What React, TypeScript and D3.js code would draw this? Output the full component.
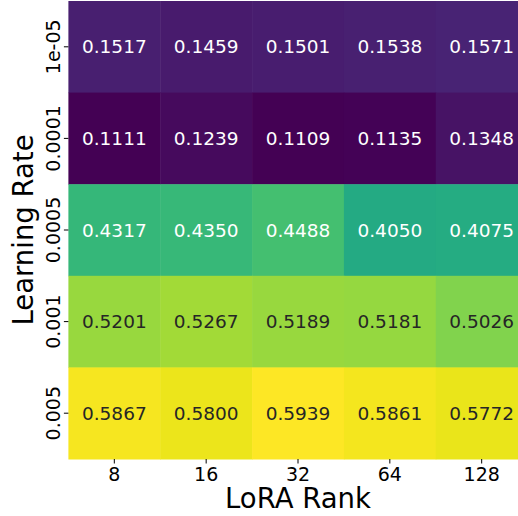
import React from "react";
import * as d3 from "d3";

const ranks = ["8", "16", "32", "64", "128"];
const learningRates = ["1e-05", "0.0001", "0.0005", "0.001", "0.005"];
const values: number[][] = [
  [0.1517, 0.1459, 0.1501, 0.1538, 0.1571],
  [0.1111, 0.1239, 0.1109, 0.1135, 0.1348],
  [0.4317, 0.435, 0.4488, 0.405, 0.4075],
  [0.5201, 0.5267, 0.5189, 0.5181, 0.5026],
  [0.5867, 0.58, 0.5939, 0.5861, 0.5772],
];
const xLabel = "LoRA Rank";
const yLabel = "Learning Rate";

const W = 518;
const H = 516;
const FONT = "'DejaVu Sans', sans-serif";

function relLum(c: string): number {
  const rgb = d3.rgb(c);
  const f = (v: number) => {
    const s = v / 255;
    return s <= 0.03928 ? s / 12.92 : Math.pow((s + 0.055) / 1.055, 2.4);
  };
  return 0.2126 * f(rgb.r) + 0.7152 * f(rgb.g) + 0.0722 * f(rgb.b);
}

export default function App() {
  const x = d3.scaleBand<string>().domain(ranks).range([68.4, 527.6]);
  const y = d3.scaleBand<string>().domain(learningRates).range([1, 459]);
  const flat = values.flat();
  const color = d3
    .scaleSequential(d3.interpolateViridis)
    .domain([d3.min(flat) as number, d3.max(flat) as number]);
  const bottom = 459;
  const left = 68.4;

  return (
    <svg
      width={W}
      height={H}
      style={{ position: "absolute", left: 0, top: 0, background: "#fff", overflow: "hidden" }}
      fontFamily={FONT}
    >
      {learningRates.map((lr, i) =>
        ranks.map((r, j) => {
          const v = values[i][j];
          const c = color(v);
          const tc = relLum(c) > 0.408 ? "#262626" : "#ffffff";
          return (
            <g key={lr + r}>
              <rect
                x={x(r)}
                y={y(lr)}
                width={x.bandwidth() + 0.5}
                height={y.bandwidth() + 0.5}
                fill={c}
              />
              <text
                x={(x(r) as number) + x.bandwidth() / 2}
                y={(y(lr) as number) + y.bandwidth() / 2}
                dy="0.36em"
                textAnchor="middle"
                fontSize={18.5}
                fill={tc}
              >
                {v.toFixed(4)}
              </text>
            </g>
          );
        })
      )}
      {ranks.map((r) => {
        const cx = (x(r) as number) + x.bandwidth() / 2;
        return (
          <g key={"xt" + r}>
            <line x1={cx} x2={cx} y1={bottom} y2={bottom + 4.5} stroke="#000" strokeWidth={1} />
            <text x={cx} y={481} textAnchor="middle" fontSize={19} fill="#000">
              {r}
            </text>
          </g>
        );
      })}
      {learningRates.map((lr) => {
        const cy = (y(lr) as number) + y.bandwidth() / 2;
        return (
          <g key={"yt" + lr}>
            <line x1={left - 4.5} x2={left} y1={cy} y2={cy} stroke="#000" strokeWidth={1} />
            <text
              transform={`translate(60,${cy}) rotate(-90)`}
              textAnchor="middle"
              fontSize={19}
              fill="#000"
            >
              {lr}
            </text>
          </g>
        );
      })}
      <text x={(left + 527.6) / 2} y={508} textAnchor="middle" fontSize={27.5} fill="#000">
        {xLabel}
      </text>
      <text
        transform={`translate(33,${(1 + bottom) / 2}) rotate(-90)`}
        textAnchor="middle"
        fontSize={27.5}
        fill="#000"
      >
        {yLabel}
      </text>
    </svg>
  );
}
